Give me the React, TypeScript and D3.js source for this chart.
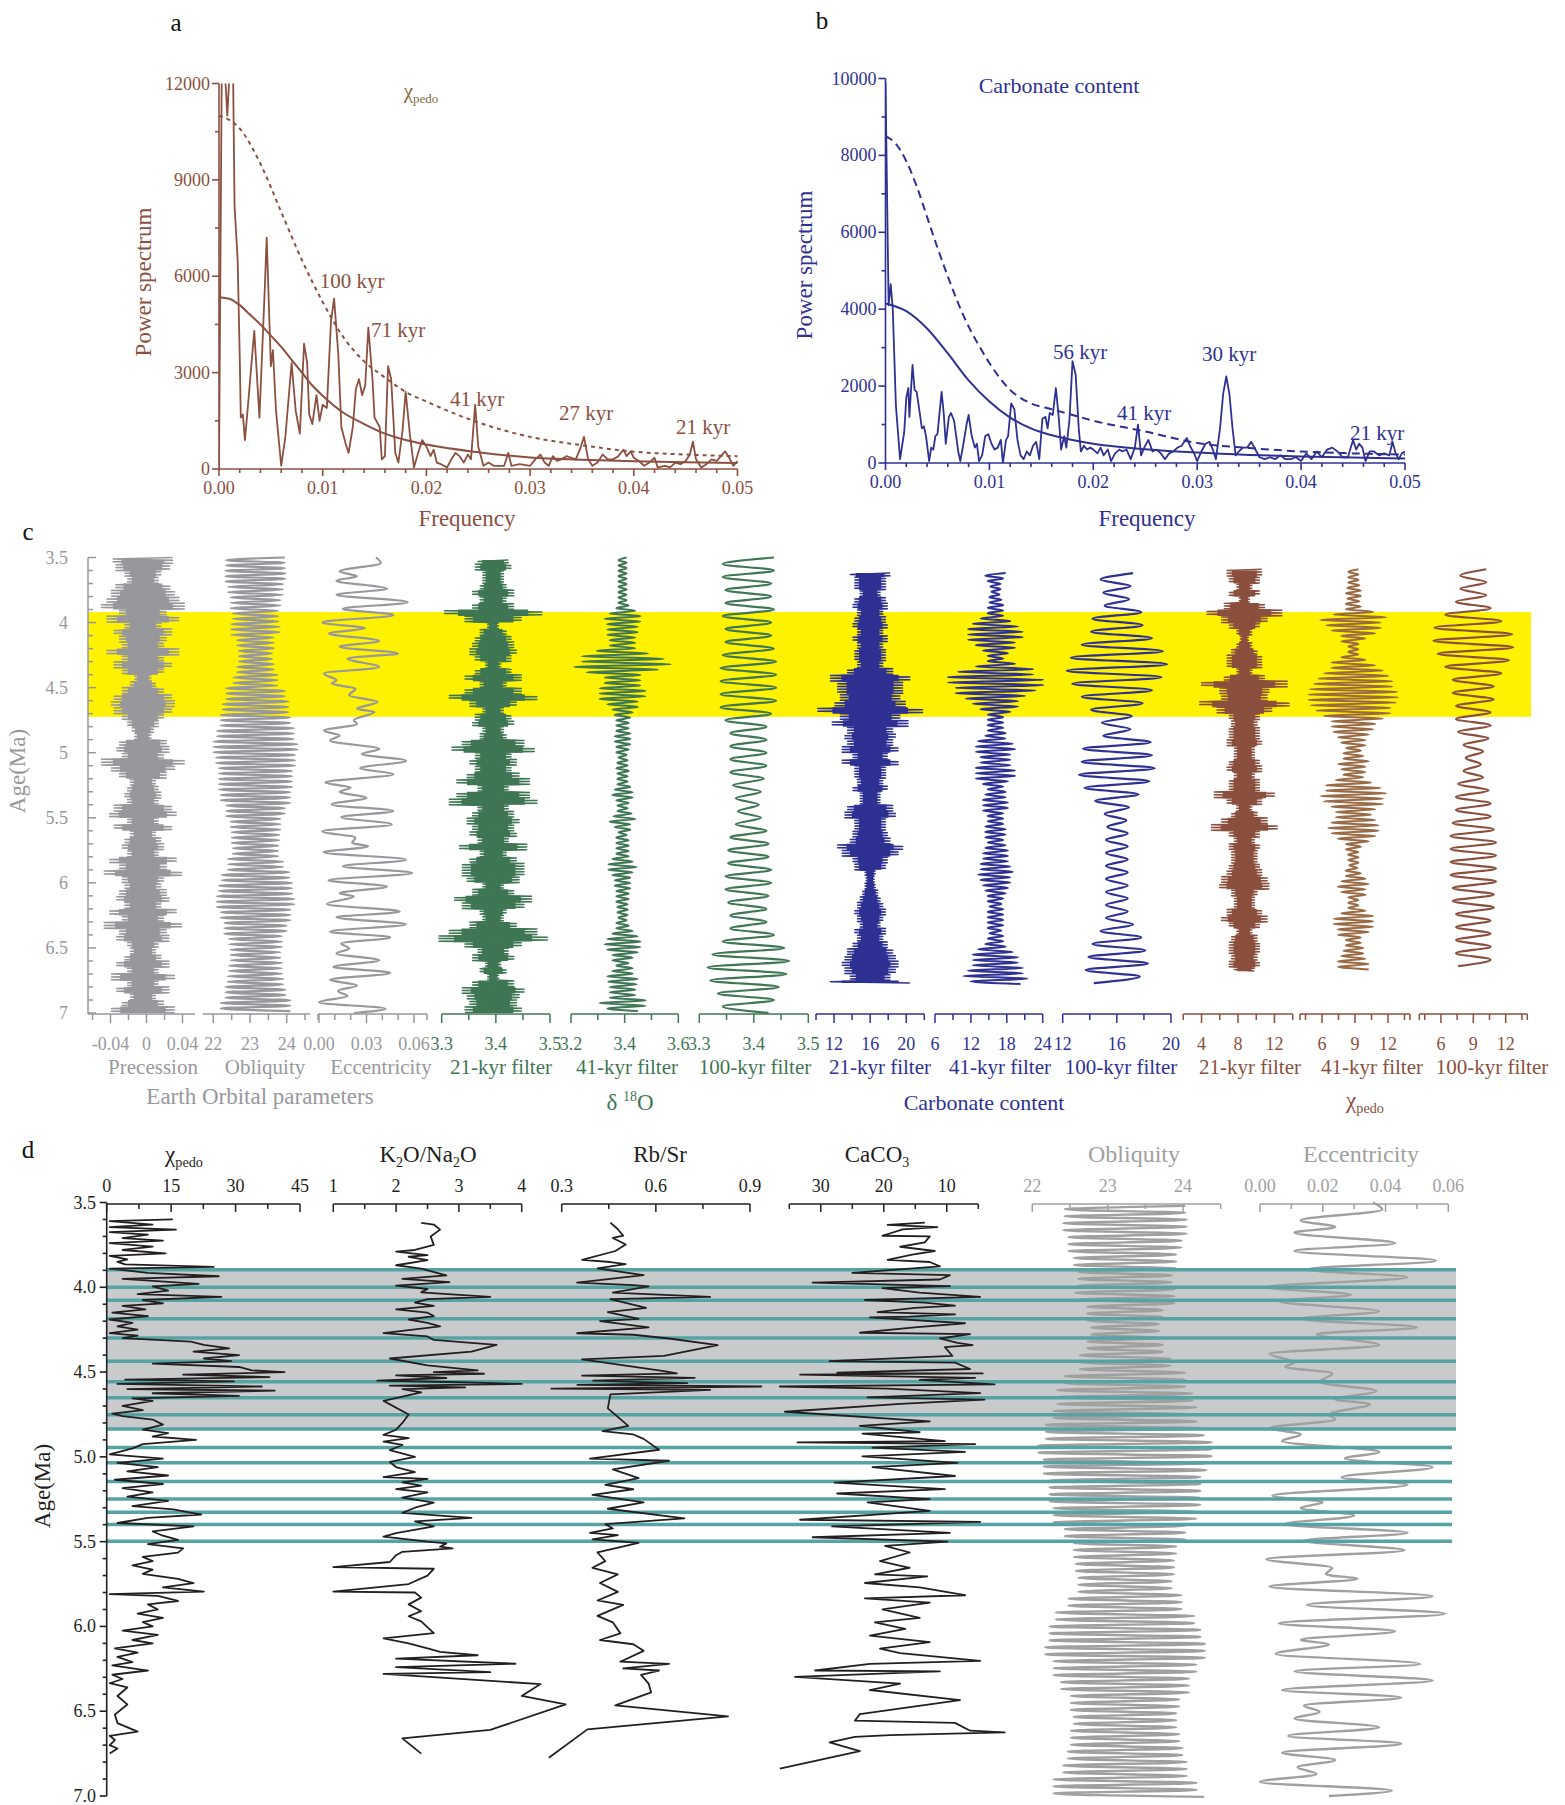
import React from "react";
import * as d3 from "d3";

type P = [number, number];

// ---------------- Panel a: chi_pedo power spectrum ----------------
const chiSpectrum: P[] = [[0,0],[0.0003,14000],[0.0008,11000],[0.0013,14000],[0.0015,8200],[0.0018,6500],[0.0020,3500],[0.0021,1600],[0.0023,1700],[0.0025,900],[0.0028,2000],[0.0034,4300],[0.0039,1600],[0.0044,5500],[0.0046,7200],[0.0050,3200],[0.0052,3700],[0.0055,1800],[0.0060,100],[0.0064,1000],[0.0070,3300],[0.0074,1800],[0.0078,1100],[0.0082,3900],[0.0085,3300],[0.0087,1700],[0.0090,1400],[0.0094,2300],[0.0097,1500],[0.0100,2000],[0.0104,1900],[0.0108,4600],[0.0111,5300],[0.0115,3600],[0.0118,1300],[0.0122,800],[0.0125,500],[0.0129,1300],[0.0132,2500],[0.0135,2800],[0.0138,2300],[0.0141,2600],[0.0144,4400],[0.0148,2800],[0.0150,1600],[0.0155,1300],[0.0157,300],[0.0160,400],[0.0163,3200],[0.0166,2800],[0.0170,500],[0.0173,200],[0.0177,1200],[0.0180,2400],[0.0184,1100],[0.0188,50],[0.0192,500],[0.0196,900],[0.0200,700],[0.0204,400],[0.0207,600],[0.0210,200],[0.0214,150],[0.0220,50],[0.0224,300],[0.0228,500],[0.0232,400],[0.0236,200],[0.0240,450],[0.0243,300],[0.0247,2000],[0.0250,700],[0.0255,100],[0.0260,200],[0.0265,100],[0.0270,100],[0.0275,100],[0.0279,500],[0.0282,100],[0.0290,150],[0.0300,100],[0.0305,300],[0.0310,450],[0.0314,200],[0.0318,100],[0.0322,400],[0.0326,250],[0.0330,300],[0.0335,400],[0.0340,350],[0.0344,300],[0.0348,600],[0.0352,1000],[0.0356,300],[0.0360,100],[0.0365,200],[0.0370,450],[0.0375,300],[0.0380,300],[0.0385,400],[0.0390,600],[0.0393,400],[0.0397,550],[0.0400,350],[0.0405,250],[0.0410,100],[0.0415,200],[0.0420,350],[0.0423,50],[0.0430,100],[0.0435,50],[0.0440,200],[0.0445,150],[0.0450,250],[0.0454,450],[0.0457,850],[0.0460,300],[0.0465,50],[0.0470,150],[0.0475,300],[0.0480,250],[0.0484,400],[0.0488,550],[0.0492,350],[0.0496,100],[0.0500,250]];
const chiRedNoise: P[] = [[0,5350],[0.001,5300],[0.002,5100],[0.003,4800],[0.004,4500],[0.005,4150],[0.006,3800],[0.007,3400],[0.008,3000],[0.009,2600],[0.010,2280],[0.012,1750],[0.014,1400],[0.016,1100],[0.018,900],[0.020,760],[0.025,520],[0.030,360],[0.035,290],[0.040,240],[0.045,210],[0.050,190]];
const chiConfidence: P[] = [[0,11000],[0.002,10600],[0.004,9500],[0.006,8000],[0.008,6500],[0.010,5200],[0.012,4100],[0.014,3350],[0.016,2850],[0.018,2400],[0.020,2100],[0.025,1450],[0.030,1000],[0.035,740],[0.040,540],[0.045,450],[0.050,400]];

// ---------------- Panel b: carbonate power spectrum ----------------
const carbSpectrum: P[] = [[0,9900],[0.0003,4100],[0.0005,4650],[0.0007,4000],[0.0010,1500],[0.0014,100],[0.0018,800],[0.0020,1700],[0.0022,1950],[0.0023,1200],[0.0026,2550],[0.0028,1900],[0.0030,1850],[0.0033,1300],[0.0035,900],[0.0037,950],[0.0039,700],[0.0042,50],[0.0044,400],[0.0046,350],[0.0048,700],[0.0050,750],[0.0054,1850],[0.0056,1300],[0.0058,500],[0.0061,1200],[0.0063,1300],[0.0066,1100],[0.0070,300],[0.0072,50],[0.0075,500],[0.0078,1000],[0.0080,1250],[0.0083,700],[0.0086,400],[0.0088,500],[0.0090,50],[0.0093,200],[0.0096,700],[0.0099,750],[0.0102,500],[0.0105,350],[0.0108,400],[0.0111,600],[0.0113,0],[0.0116,600],[0.0118,700],[0.0121,1550],[0.0124,1400],[0.0127,600],[0.0130,200],[0.0133,100],[0.0136,300],[0.0139,200],[0.0142,450],[0.0145,550],[0.0148,100],[0.0151,1150],[0.0154,1200],[0.0156,900],[0.0158,1300],[0.0161,1250],[0.0164,1950],[0.0167,1100],[0.0169,350],[0.0172,700],[0.0174,400],[0.0177,1100],[0.0180,2650],[0.0183,2300],[0.0186,900],[0.0188,300],[0.0191,450],[0.0194,350],[0.0197,400],[0.0200,350],[0.0204,250],[0.0207,400],[0.0210,200],[0.0214,350],[0.0217,50],[0.0221,250],[0.0225,350],[0.0228,300],[0.0232,350],[0.0236,100],[0.0240,400],[0.0243,1000],[0.0246,200],[0.0249,400],[0.0253,600],[0.0257,300],[0.0261,350],[0.0265,250],[0.0269,100],[0.0273,250],[0.0277,300],[0.0281,400],[0.0285,450],[0.0290,650],[0.0293,450],[0.0297,250],[0.0300,50],[0.0304,300],[0.0308,500],[0.0312,550],[0.0315,350],[0.0318,100],[0.0322,900],[0.0325,1800],[0.0328,2250],[0.0331,1800],[0.0334,900],[0.0337,200],[0.0340,300],[0.0344,400],[0.0348,400],[0.0352,550],[0.0356,350],[0.0360,150],[0.0365,100],[0.0370,150],[0.0375,100],[0.0380,200],[0.0385,100],[0.0390,100],[0.0395,150],[0.0400,50],[0.0405,250],[0.0410,100],[0.0415,300],[0.0420,150],[0.0425,350],[0.0430,400],[0.0435,300],[0.0440,150],[0.0445,150],[0.0450,600],[0.0453,350],[0.0456,500],[0.0459,400],[0.0462,50],[0.0466,300],[0.0470,300],[0.0475,200],[0.0480,250],[0.0485,200],[0.0488,550],[0.0491,250],[0.0494,100],[0.0497,250],[0.0500,300]];
const carbRedNoise: P[] = [[0,4150],[0.002,3950],[0.004,3500],[0.006,2850],[0.008,2150],[0.010,1600],[0.012,1180],[0.014,900],[0.016,720],[0.018,600],[0.020,500],[0.025,360],[0.030,270],[0.035,210],[0.040,170],[0.045,140],[0.050,120]];
const carbConfidence: P[] = [[0,8500],[0.001,8300],[0.002,7850],[0.003,7200],[0.004,6400],[0.005,5600],[0.006,4850],[0.007,4150],[0.008,3550],[0.009,3050],[0.010,2600],[0.012,1900],[0.014,1550],[0.016,1400],[0.018,1250],[0.020,1100],[0.025,820],[0.030,520],[0.035,390],[0.040,300],[0.045,250],[0.050,220]];

// ---------------- Panel c: envelopes (half-amplitudes, data units) ----------------
// grid 3.50..7.00 step 0.05
const precessionEnv = [0.033,0.030,0.020,0.017,0.030,0.035,0.040,0.046,0.026,0.040,0.020,0.032,0.026,0.023,0.040,0.023,0.032,0.023,0.009,0.014,0.023,0.032,0.035,0.032,0.023,0.017,0.012,0.009,0.026,0.029,0.023,0.046,0.035,0.026,0.014,0.017,0.020,0.017,0.032,0.037,0.017,0.032,0.014,0.020,0.023,0.017,0.037,0.026,0.043,0.023,0.020,0.026,0.029,0.020,0.037,0.023,0.043,0.026,0.029,0.017,0.014,0.020,0.029,0.017,0.035,0.017,0.029,0.014,0.023,0.035,0.020];
// grid 3.5..7.0 step 0.1
const obliquityEnv = [0.80,0.82,0.75,0.68,0.62,0.66,0.50,0.45,0.50,0.60,0.80,0.90,0.95,1.05,1.15,1.08,1.00,1.00,0.95,0.80,0.68,0.65,0.62,0.75,0.92,1.00,1.06,0.95,0.85,0.72,0.68,0.72,0.76,0.82,0.95,1.05];
// eccentricity turning points [age Ma, value]
const eccentricity: P[] = [[3.50,0.036],[3.542,0.039],[3.606,0.013],[3.645,0.024],[3.678,0.011],[3.740,0.043],[3.786,0.011],[3.843,0.056],[3.895,0.015],[3.941,0.047],[4.000,0.002],[4.044,0.029],[4.083,0.006],[4.142,0.038],[4.186,0.013],[4.237,0.050],[4.276,0.018],[4.341,0.038],[4.392,0.003],[4.443,0.011],[4.469,0.008],[4.508,0.023],[4.559,0.019],[4.611,0.037],[4.662,0.024],[4.688,0.035],[4.75,0.022],[4.78,0.024],[4.830,0.003],[4.868,0.013],[4.907,0.007],[4.971,0.038],[5.010,0.027],[5.061,0.055],[5.120,0.026],[5.165,0.047],[5.229,0.004],[5.268,0.020],[5.302,0.013],[5.346,0.030],[5.397,0.008],[5.448,0.047],[5.495,0.014],[5.551,0.046],[5.603,0.002],[5.654,0.023],[5.693,0.021],[5.719,0.031],[5.765,0.003],[5.822,0.055],[5.873,0.015],[5.925,0.059],[5.981,0.006],[6.028,0.043],[6.080,0.013],[6.105,0.022],[6.162,0.005],[6.221,0.051],[6.265,0.011],[6.319,0.055],[6.375,0.007],[6.419,0.045],[6.466,0.014],[6.504,0.019],[6.543,0.011],[6.595,0.038],[6.646,0.009],[6.692,0.045],[6.744,0.007],[6.788,0.024],[6.83,0.012],[6.87,0.018],[6.917,0.000],[6.968,0.042],[7.00,0.022]];
// delta18O filters, grid 3.50..7.00 step 0.05 (100-kyr: step 0.1)
const d18O21Env = [0.028,0.033,0.019,0.019,0.024,0.038,0.024,0.038,0.090,0.052,0.010,0.024,0.033,0.038,0.043,0.033,0.014,0.033,0.052,0.024,0.052,0.081,0.043,0.019,0.033,0.038,0.019,0.024,0.057,0.076,0.033,0.043,0.033,0.048,0.067,0.028,0.067,0.081,0.028,0.038,0.048,0.038,0.043,0.028,0.062,0.024,0.043,0.057,0.057,0.048,0.019,0.038,0.071,0.057,0.024,0.019,0.043,0.081,0.100,0.052,0.028,0.038,0.014,0.024,0.010,0.038,0.057,0.048,0.043,0.052,0.038];
const d18O41Env = [0.015,0.015,0.015,0.015,0.015,0.015,0.015,0.023,0.048,0.067,0.057,0.057,0.048,0.048,0.096,0.153,0.181,0.134,0.067,0.067,0.086,0.086,0.057,0.038,0.029,0.023,0.023,0.029,0.029,0.023,0.015,0.019,0.023,0.019,0.019,0.029,0.038,0.023,0.019,0.034,0.048,0.029,0.015,0.023,0.023,0.023,0.038,0.053,0.038,0.029,0.029,0.023,0.023,0.019,0.019,0.015,0.023,0.038,0.057,0.067,0.057,0.038,0.023,0.038,0.057,0.053,0.048,0.048,0.086,0.057,0.019];
const d18O100Env = [0.047,0.047,0.042,0.042,0.047,0.042,0.042,0.047,0.051,0.051,0.051,0.051,0.042,0.033,0.033,0.033,0.033,0.028,0.023,0.019,0.023,0.033,0.037,0.037,0.042,0.042,0.037,0.033,0.033,0.047,0.066,0.075,0.070,0.056,0.047,0.037];
// carbonate filters, grid 3.60..6.75 step 0.05 (100-kyr: step 0.1)
const carb21Env = [2.2,1.7,1.7,1.1,1.7,1.9,1.4,1.7,1.9,1.4,1.9,1.4,1.7,1.7,1.4,2.5,4.4,3.6,3.6,3.3,3.9,5.8,3.3,4.2,2.5,2.8,2.5,3.1,1.9,3.1,1.7,1.7,1.4,1.9,1.1,1.1,2.5,2.8,1.7,1.7,1.9,2.2,3.6,3.1,1.9,1.7,0.56,0.44,0.56,0.83,1.1,1.4,1.7,1.4,1.1,1.7,1.4,1.9,2.5,2.8,3.1,2.8,2.2,4.4];
const carb41Env = [1.7,1.3,0.84,0.67,1.0,1.3,1.3,2.5,3.8,4.6,4.6,3.3,2.1,1.3,3.3,6.3,8.0,8.0,6.7,5.0,3.8,2.5,1.3,1.3,1.3,1.7,2.9,3.3,2.5,2.5,3.3,3.3,2.1,1.3,1.7,2.1,2.1,1.3,1.3,1.7,1.7,1.3,1.7,2.1,2.1,2.5,2.9,2.5,2.1,1.7,1.3,1.0,1.3,1.3,1.3,1.0,1.3,1.7,2.9,3.8,3.8,4.6,5.4,4.2];
const carb100Env = [1.2,1.0,0.9,1.8,1.9,2.6,3.4,3.7,3.3,2.6,1.9,1.1,1.0,2.5,2.6,2.8,2.4,1.6,0.9,0.7,0.8,0.8,0.8,0.8,0.8,0.8,0.8,1.2,1.8,2.1,2.3,1.7,1.4];
// chi_pedo filters, grid 3.60..6.65 step 0.05 (100-kyr: step 0.1)
const chi21Env = [1.9,1.65,0.82,1.65,0.55,2.2,4.1,2.5,1.65,0.82,0.44,0.82,1.4,1.9,1.9,0.82,2.2,4.7,2.7,2.5,4.9,3.0,1.65,1.4,1.65,1.65,1.9,1.1,1.1,1.65,1.9,1.1,1.65,1.65,3.3,1.9,0.82,1.4,2.5,3.6,1.65,1.1,1.65,1.4,1.4,1.65,1.9,2.5,2.7,1.4,1.1,1.1,1.9,2.5,1.65,0.82,1.4,1.65,1.65,1.4,1.65,1.1];
const chi41Env = [0.46,0.46,0.55,0.68,0.55,0.68,1.8,3.0,2.5,2.0,1.1,0.46,0.46,1.1,2.0,2.7,3.2,3.6,4.0,4.1,3.9,3.4,2.7,2.0,1.8,1.4,1.1,0.68,0.91,1.4,1.1,0.91,1.6,2.5,3.0,2.7,2.0,1.6,2.0,2.3,2.0,1.4,0.68,0.46,0.46,0.36,0.68,1.1,1.4,1.1,0.46,0.46,1.1,1.8,1.8,1.4,0.68,0.68,0.91,1.1,1.4,1.4];
const chi100Env = [1.2,1.2,1.6,2.6,3.6,3.7,3.3,2.6,1.9,1.9,1.6,1.6,1.4,0.9,0.7,0.9,1.4,1.6,1.6,1.9,2.1,2.1,2.1,2.1,1.9,1.9,1.6,1.6,1.6,1.6,1.4,1.2];

// ---------------- Panel d: proxy records [age Ma, value] ----------------
const chiPedo: P[] = [[3.60,15.4],[3.61,0.7],[3.63,10.7],[3.645,0.7],[3.66,16.1],[3.675,0.7],[3.69,9.6],[3.71,3.7],[3.725,13.1],[3.74,0.7],[3.76,10.7],[3.78,3.7],[3.80,13.7],[3.815,0.7],[3.835,4.8],[3.85,2.5],[3.865,4.3],[3.88,24.9],[3.89,0.7],[3.915,9.6],[3.935,26.1],[3.95,3.7],[3.98,21.4],[3.995,10.7],[4.02,14.3],[4.04,7.2],[4.057,26.7],[4.075,8.4],[4.095,13.1],[4.11,3.7],[4.13,9.0],[4.15,1.3],[4.17,9.6],[4.19,0.7],[4.21,6.0],[4.23,2.5],[4.25,7.2],[4.27,0.7],[4.285,7.2],[4.30,3.7],[4.32,19.6],[4.34,22.6],[4.36,28.5],[4.38,20.2],[4.40,30.8],[4.42,22.6],[4.435,29.0],[4.45,10.7],[4.47,30.8],[4.49,33.8],[4.50,41.4],[4.515,17.8],[4.53,37.9],[4.545,4.3],[4.555,29.6],[4.57,2.5],[4.585,36.1],[4.60,4.8],[4.61,39.1],[4.625,10.7],[4.64,30.8],[4.655,6.0],[4.67,10.7],[4.70,3.7],[4.725,8.4],[4.745,1.3],[4.76,3.7],[4.78,10.7],[4.81,13.1],[4.84,8.4],[4.86,14.3],[4.88,10.7],[4.90,20.8],[4.925,8.4],[4.95,6.0],[4.985,0.7],[5.01,13.1],[5.035,2.5],[5.06,11.9],[5.085,4.8],[5.11,14.3],[5.135,1.9],[5.16,13.1],[5.185,3.7],[5.21,10.7],[5.235,4.8],[5.26,14.3],[5.29,6.0],[5.31,15.5],[5.34,22.0],[5.36,9.6],[5.39,2.5],[5.41,20.2],[5.44,10.7],[5.465,13.1],[5.49,16.6],[5.515,9.6],[5.54,17.8],[5.565,16.6],[5.59,8.4],[5.615,10.7],[5.64,6.0],[5.665,10.7],[5.69,8.4],[5.72,16.6],[5.745,20.2],[5.77,13.1],[5.795,22.6],[5.81,0.7],[5.82,11.9],[5.85,16.6],[5.87,9.6],[5.90,11.9],[5.925,7.2],[5.95,13.1],[5.975,8.4],[6.00,10.7],[6.025,3.7],[6.05,11.9],[6.08,6.0],[6.10,10.7],[6.13,1.9],[6.155,7.2],[6.18,2.5],[6.21,6.0],[6.23,1.3],[6.26,9.6],[6.285,1.3],[6.31,3.7],[6.335,0.7],[6.36,4.8],[6.41,2.5],[6.46,4.8],[6.52,1.9],[6.57,2.5],[6.62,7.2],[6.645,0.7],[6.67,1.9],[6.70,0.7],[6.72,2.5],[6.75,0.7]];
const k2oNa2o: P[] = [[3.62,2.4],[3.63,2.6],[3.66,2.7],[3.70,2.55],[3.75,2.6],[3.78,2.3],[3.79,2.0],[3.81,2.5],[3.82,2.2],[3.84,2.5],[3.87,2.0],[3.89,2.4],[3.93,2.8],[3.95,2.1],[3.97,2.85],[3.99,2.0],[4.01,2.5],[4.03,2.4],[4.057,3.5],[4.07,2.5],[4.09,2.3],[4.11,2.6],[4.13,2.0],[4.15,2.5],[4.17,2.6],[4.19,2.2],[4.21,2.5],[4.23,2.7],[4.27,1.8],[4.29,2.5],[4.31,2.6],[4.34,3.6],[4.38,3.2],[4.42,1.9],[4.46,2.5],[4.49,3.3],[4.50,2.6],[4.51,3.4],[4.52,2.0],[4.535,2.8],[4.55,1.7],[4.56,3.0],[4.57,4.0],[4.58,1.9],[4.59,3.1],[4.60,2.1],[4.62,2.4],[4.67,1.8],[4.75,2.2],[4.80,2.1],[4.84,2.0],[4.87,1.8],[4.89,2.2],[4.91,1.8],[4.93,2.1],[4.96,1.9],[5.00,2.3],[5.03,1.9],[5.06,2.0],[5.09,2.3],[5.12,1.8],[5.13,2.5],[5.15,2.1],[5.17,2.4],[5.19,2.0],[5.21,2.5],[5.24,2.1],[5.27,2.6],[5.30,2.3],[5.33,2.1],[5.36,3.2],[5.38,2.3],[5.41,2.6],[5.45,2.0],[5.47,1.8],[5.50,2.5],[5.51,2.8],[5.53,2.7],[5.54,2.9],[5.56,2.1],[5.58,2.0],[5.62,1.9],[5.65,1.0],[5.66,2.6],[5.70,2.5],[5.75,2.2],[5.795,1.0],[5.80,2.3],[5.83,2.4],[5.87,2.2],[5.91,2.4],[5.94,2.2],[5.97,2.4],[6.04,2.6],[6.07,1.8],[6.10,2.2],[6.13,2.5],[6.15,2.7],[6.17,3.3],[6.19,2.0],[6.22,3.9],[6.24,2.0],[6.27,3.5],[6.28,1.8],[6.34,4.3],[6.41,4.0],[6.46,4.7],[6.61,3.5],[6.66,2.1],[6.75,2.4]];
const rbSr: P[] = [[3.619,0.455],[3.658,0.479],[3.696,0.496],[3.709,0.463],[3.748,0.504],[3.786,0.471],[3.838,0.365],[3.851,0.455],[3.864,0.504],[3.889,0.414],[3.928,0.561],[3.972,0.349],[3.987,0.528],[3.995,0.577],[4.031,0.463],[4.057,0.773],[4.070,0.455],[4.121,0.569],[4.147,0.447],[4.186,0.545],[4.199,0.422],[4.237,0.577],[4.271,0.349],[4.28,0.528],[4.302,0.642],[4.341,0.797],[4.405,0.626],[4.425,0.365],[4.495,0.626],[4.508,0.667],[4.521,0.365],[4.534,0.724],[4.55,0.40],[4.559,0.561],[4.565,0.70],[4.575,0.35],[4.585,0.936],[4.598,0.267],[4.605,0.773],[4.632,0.455],[4.714,0.447],[4.817,0.512],[4.848,0.430],[4.868,0.528],[4.894,0.561],[4.958,0.610],[5.010,0.390],[5.023,0.642],[5.074,0.463],[5.126,0.545],[5.165,0.439],[5.191,0.528],[5.224,0.398],[5.268,0.561],[5.306,0.447],[5.363,0.691],[5.397,0.439],[5.422,0.463],[5.448,0.390],[5.461,0.479],[5.487,0.398],[5.507,0.545],[5.564,0.414],[5.615,0.439],[5.654,0.398],[5.693,0.479],[5.744,0.422],[5.796,0.479],[5.847,0.414],[5.873,0.496],[5.938,0.414],[5.976,0.463],[6.041,0.487],[6.080,0.422],[6.105,0.528],[6.144,0.561],[6.208,0.487],[6.221,0.642],[6.247,0.496],[6.260,0.610],[6.286,0.553],[6.337,0.577],[6.389,0.585],[6.466,0.471],[6.530,0.830],[6.607,0.382],[6.774,0.259]];
const caco3: P[] = [[3.619,13.5],[3.632,19.4],[3.645,11.5],[3.658,17.0],[3.696,20.2],[3.70,12.7],[3.735,13.5],[3.761,17.4],[3.786,11.9],[3.807,15.5],[3.838,19.4],[3.851,12.7],[3.877,11.1],[3.915,25.0],[3.928,9.5],[3.954,11.1],[3.972,31.3],[3.993,9.5],[4.005,20.2],[4.031,14.3],[4.057,4.7],[4.075,23.0],[4.090,13.5],[4.108,8.7],[4.121,15.1],[4.147,21.0],[4.160,8.7],[4.173,15.9],[4.178,22.2],[4.212,7.1],[4.237,15.1],[4.268,23.8],[4.276,6.3],[4.302,11.1],[4.328,8.3],[4.341,5.9],[4.353,10.3],[4.405,9.1],[4.436,28.6],[4.444,8.7],[4.482,6.3],[4.503,27.4],[4.508,4.3],[4.515,33.3],[4.534,5.5],[4.546,14.3],[4.572,2.4],[4.585,36.5],[4.598,19.4],[4.624,4.7],[4.649,22.6],[4.662,4.0],[4.688,17.4],[4.734,35.7],[4.791,12.7],[4.817,23.8],[4.855,14.3],[4.863,23.4],[4.907,10.3],[4.915,33.7],[4.925,5.5],[4.946,21.8],[4.971,7.1],[4.997,23.4],[5.036,8.3],[5.061,21.8],[5.113,8.7],[5.152,27.8],[5.190,10.3],[5.216,27.4],[5.249,12.7],[5.268,22.6],[5.319,12.7],[5.371,33.3],[5.384,4.7],[5.410,28.2],[5.448,9.5],[5.474,31.3],[5.500,9.9],[5.525,19.8],[5.564,15.9],[5.615,20.6],[5.654,15.9],[5.693,21.4],[5.705,13.1],[5.744,23.0],[5.770,14.3],[5.816,7.1],[5.834,23.0],[5.860,12.7],[5.899,20.2],[5.950,14.3],[5.976,21.4],[6.015,16.6],[6.054,22.2],[6.092,12.7],[6.131,20.6],[6.157,17.4],[6.203,4.7],[6.221,22.2],[6.260,30.9],[6.265,11.1],[6.298,34.1],[6.337,17.4],[6.375,22.2],[6.435,7.9],[6.517,23.8],[6.556,24.6],[6.569,8.7],[6.615,6.3],[6.625,0.8],[6.641,19.0],[6.651,24.6],[6.684,28.6],[6.735,23.8],[6.839,36.5]];
const tealAges = [3.897,4.0,4.077,4.186,4.299,4.436,4.557,4.652,4.752,4.835,4.945,5.035,5.146,5.249,5.327,5.399,5.497];

// ---------------- helpers ----------------
const FONT = "'Liberation Serif','Times New Roman',serif";
const BROWN_A = "#8b5040";
const NAVY = "#2e3192";
const GRAY_C = "#98989c";
const GREEN = "#3f7654";
const BROWN = "#8b4f3e";
const TAN = "#9a6a44";
const GRAY_D = "#a0a0a0";
const TEAL = "#56a3a3";
const BLACK = "#231f20";
const CORE = 0.72; // solid core drawn under dense oscillations (fraction of envelope)

function zig(start: number, end: number, period: number, g0: number, step: number, env: number[], center: number): P[] {
  const out: P[] = [];
  const n = Math.floor((end - start) / (period / 2) + 1e-6);
  for (let k = 0; k <= n; k++) {
    const t = start + (k * period) / 2;
    const i = Math.max(0, Math.min(env.length - 1, Math.floor((t - g0) / step + 1e-6)));
    out.push([t, center + (k % 2 === 0 ? env[i] : -env[i])]);
  }
  return out;
}

function blob(start: number, end: number, g0: number, step: number, env: number[]) {
  const rows: P[] = [];
  env.forEach((v, i) => {
    const a0 = Math.max(start, g0 + i * step);
    const a1 = Math.min(end, g0 + (i + 1) * step);
    if (a1 > a0) { rows.push([a0, v * CORE]); rows.push([a1, v * CORE]); }
  });
  return rows;
}

function vpath(data: P[], xs: (v: number) => number, ys: (v: number) => number, curve: any = d3.curveLinear) {
  return d3.line<P>().x((d) => xs(d[1])).y((d) => ys(d[0])).curve(curve)(data) || "";
}

function varea(rows: P[], center: number, xs: (v: number) => number, ys: (v: number) => number) {
  return d3.area<P>().y((d) => ys(d[0])).x0((d) => xs(center - d[1])).x1((d) => xs(center + d[1])).curve(d3.curveMonotoneY)(rows) || "";
}

type AxisSpec = {
  scale: d3.ScaleLinear<number, number>;
  from: number; to: number;
  ticks: number[];
  labels: [number, string][];
  color: string;
  ends?: boolean;
};

function BottomAxis({ a, y, labelY, fs }: { a: AxisSpec; y: number; labelY: number; fs: number }) {
  const lab = new Set(a.labels.map((l) => l[0]));
  return (
    <g stroke={a.color} fill="none" strokeWidth={1.5}>
      <line x1={a.from} x2={a.to} y1={y} y2={y} />
      {a.ticks.map((t, i) => (
        <line key={i} x1={a.scale(t)} x2={a.scale(t)} y1={y} y2={y + (lab.has(t) ? 9 : 6)} />
      ))}
      {a.ends && <line x1={a.from} x2={a.from} y1={y} y2={y + 6} />}
      {a.ends && <line x1={a.to} x2={a.to} y1={y} y2={y + 6} />}
      {a.labels.map(([v, s], i) => (
        <text key={"l" + i} x={a.scale(v)} y={labelY} fill={a.color} stroke="none" fontSize={fs} textAnchor="middle">{s}</text>
      ))}
    </g>
  );
}

function TopAxis({ a, y, labelY, fs }: { a: AxisSpec; y: number; labelY: number; fs: number }) {
  const lab = new Set(a.labels.map((l) => l[0]));
  return (
    <g stroke={a.color} fill="none" strokeWidth={1.5}>
      <line x1={a.from} x2={a.to} y1={y} y2={y} />
      {a.ticks.map((t, i) => (
        <line key={i} x1={a.scale(t)} x2={a.scale(t)} y1={y} y2={y + (lab.has(t) ? 8 : 5)} />
      ))}
      {a.labels.map(([v, s], i) => (
        <text key={"l" + i} x={a.scale(v)} y={labelY} fill={a.color} stroke="none" fontSize={fs} textAnchor="middle">{s}</text>
      ))}
    </g>
  );
}

function Spectrum({ xs, ys, spec, red, conf, color, yTicks, yMajorEvery, dash, clipId }: any) {
  const [x0, x1] = xs.range();
  const [y0, y1] = ys.range();
  const xt = d3.range(0, 26).map((i) => i * 0.002);
  const line = d3.line<P>().x((d) => xs(d[0])).y((d) => ys(d[1]));
  const smooth = d3.line<P>().x((d) => xs(d[0])).y((d) => ys(d[1])).curve(d3.curveMonotoneX);
  return (
    <g>
      <defs>
        <clipPath id={clipId}><rect x={x0} y={y1} width={x1 - x0 + 2} height={y0 - y1} /></clipPath>
      </defs>
      <g clipPath={`url(#${clipId})`} fill="none" stroke={color}>
        <path d={smooth(conf) || ""} strokeWidth={2} strokeDasharray={dash} />
        <path d={smooth(red) || ""} strokeWidth={2} />
        <path d={line(spec) || ""} strokeWidth={1.8} strokeLinejoin="round" />
      </g>
      <g stroke={color} strokeWidth={1.6}>
        <line x1={x0} x2={x0} y1={y0} y2={y1} />
        <line x1={x0} x2={x1} y1={y0} y2={y0} />
        {yTicks.map((v: number, i: number) => (
          <line key={"y" + i} x1={x0} x2={x0 - (i % yMajorEvery === 0 ? 7 : 4)} y1={ys(v)} y2={ys(v)} />
        ))}
        {xt.map((v, i) => (
          <line key={"x" + i} x1={xs(v)} x2={xs(v)} y1={y0} y2={y0 + (i % 5 === 0 ? 7 : 4)} />
        ))}
      </g>
      <g fill={color} fontSize={18}>
        {yTicks.filter((_: number, i: number) => i % yMajorEvery === 0).map((v: number) => (
          <text key={v} x={x0 - 9} y={ys(v) + 6} textAnchor="end">{v}</text>
        ))}
        {[0, 0.01, 0.02, 0.03, 0.04, 0.05].map((v) => (
          <text key={v} x={xs(v)} y={y0 + 25} textAnchor="middle">{v.toFixed(2)}</text>
        ))}
      </g>
    </g>
  );
}

function Chi({ x, y, fs, color, anchor = "middle" }: any) {
  return (
    <text x={x} y={y} fill={color} fontSize={fs} textAnchor={anchor}>
      χ<tspan fontSize={fs * 0.62} dy={fs * 0.22}>pedo</tspan>
    </text>
  );
}

export default function App() {
  const xA = d3.scaleLinear([0, 0.05], [219, 737.5]);
  const yA = d3.scaleLinear([0, 12000], [469, 83.5]);
  const xB = d3.scaleLinear([0, 0.05], [885.5, 1405]);
  const yB = d3.scaleLinear([0, 10000], [463, 78.5]);

  const ageC = d3.scaleLinear([3.5, 7], [557.5, 1013]);
  const cAxes: AxisSpec[] = [
    { scale: d3.scaleLinear([-0.04, 0.04], [110.5, 182.5]), from: 88, to: 195, ticks: [-0.06, -0.04, -0.02, 0, 0.02, 0.04], labels: [[-0.04, "-0.04"], [0, "0"], [0.04, "0.04"]], color: GRAY_C },
    { scale: d3.scaleLinear([22, 24], [213.3, 286.7]), from: 202.7, to: 310, ticks: [22, 22.5, 23, 23.5, 24, 24.5], labels: [[22, "22"], [23, "23"], [24, "24"]], color: GRAY_C },
    { scale: d3.scaleLinear([0, 0.06], [319, 414]), from: 318, to: 427, ticks: [0, 0.01, 0.02, 0.03, 0.04, 0.05, 0.06], labels: [[0, "0.00"], [0.03, "0.03"], [0.06, "0.06"]], color: GRAY_C, ends: true },
    { scale: d3.scaleLinear([3.3, 3.5], [441.7, 550]), from: 441.7, to: 550, ticks: [3.3, 3.35, 3.4, 3.45, 3.5], labels: [[3.3, "3.3"], [3.4, "3.4"], [3.5, "3.5"]], color: GREEN },
    { scale: d3.scaleLinear([3.2, 3.6], [571, 678.3]), from: 571, to: 678.3, ticks: [3.2, 3.3, 3.4, 3.5, 3.6], labels: [[3.2, "3.2"], [3.4, "3.4"], [3.6, "3.6"]], color: GREEN },
    { scale: d3.scaleLinear([3.3, 3.5], [699.3, 808.3]), from: 699.3, to: 808.3, ticks: [3.3, 3.35, 3.4, 3.45, 3.5], labels: [[3.3, "3.3"], [3.4, "3.4"], [3.5, "3.5"]], color: GREEN },
    { scale: d3.scaleLinear([10, 22], [816, 924.3]), from: 816, to: 924.3, ticks: [10, 12, 14, 16, 18, 20, 22], labels: [[12, "12"], [16, "16"], [20, "20"]], color: NAVY },
    { scale: d3.scaleLinear([6, 24], [935, 1042.7]), from: 935, to: 1042.7, ticks: [6, 9, 12, 15, 18, 21, 24], labels: [[6, "6"], [12, "12"], [18, "18"], [24, "24"]], color: NAVY },
    { scale: d3.scaleLinear([12, 20], [1062.7, 1171]), from: 1062.7, to: 1171, ticks: [12, 14, 16, 18, 20], labels: [[12, "12"], [16, "16"], [20, "20"]], color: NAVY },
    { scale: d3.scaleLinear([2, 14], [1183.3, 1292.7]), from: 1183.3, to: 1292.7, ticks: [2, 4, 6, 8, 10, 12, 14], labels: [[4, "4"], [8, "8"], [12, "12"]], color: BROWN },
    { scale: d3.scaleLinear([4, 14], [1300, 1410]), from: 1300, to: 1410, ticks: [4.5, 6, 7.5, 9, 10.5, 12, 13.5], labels: [[6, "6"], [9, "9"], [12, "12"]], color: BROWN, ends: true },
    { scale: d3.scaleLinear([4, 14], [1419.3, 1527.3]), from: 1419.3, to: 1527.3, ticks: [4.5, 6, 7.5, 9, 10.5, 12, 13.5], labels: [[6, "6"], [9, "9"], [12, "12"]], color: BROWN, ends: true },
  ];
  const ys = (v: number) => ageC(v);
  const cBlobs = [
    { d: varea(blob(3.52, 7.0, 3.5, 0.05, precessionEnv), -0.004, cAxes[0].scale, ys), c: GRAY_C },
    { d: varea(blob(3.52, 7.0, 3.5, 0.05, d18O21Env), 3.395, cAxes[3].scale, ys), c: GREEN },
    { d: varea(blob(3.62, 6.77, 3.6, 0.05, carb21Env), 16.0, cAxes[6].scale, ys), c: NAVY },
    { d: varea(blob(3.59, 6.68, 3.6, 0.05, chi21Env), 8.7, cAxes[9].scale, ys), c: BROWN },
  ];
  const cCurves = [
    { d: vpath(zig(3.5, 7.0, 0.022, 3.5, 0.05, precessionEnv, -0.004), cAxes[0].scale, ys), c: GRAY_C, w: 1.5 },
    { d: vpath(zig(3.5, 7.0, 0.041, 3.5, 0.1, obliquityEnv, 23.15), cAxes[1].scale, ys, d3.curveMonotoneY), c: GRAY_C, w: 2.2 },
    { d: vpath(eccentricity, cAxes[2].scale, ys, d3.curveMonotoneY), c: GRAY_C, w: 2.2 },
    { d: vpath(zig(3.52, 7.0, 0.021, 3.5, 0.05, d18O21Env, 3.395), cAxes[3].scale, ys), c: GREEN, w: 1.5 },
    { d: vpath(zig(3.5, 7.0, 0.041, 3.5, 0.05, d18O41Env, 3.392), cAxes[4].scale, ys, d3.curveMonotoneY), c: GREEN, w: 2 },
    { d: vpath(zig(3.5, 7.0, 0.1, 3.5, 0.1, d18O100Env, 3.39), cAxes[5].scale, ys, d3.curveMonotoneY), c: GREEN, w: 2.2 },
    { d: vpath(zig(3.62, 6.77, 0.021, 3.6, 0.05, carb21Env, 16.0), cAxes[6].scale, ys), c: NAVY, w: 1.5 },
    { d: vpath(zig(3.62, 6.78, 0.041, 3.6, 0.05, carb41Env, 16.1), cAxes[7].scale, ys, d3.curveMonotoneY), c: NAVY, w: 2 },
    { d: vpath(zig(3.62, 6.78, 0.1, 3.6, 0.1, carb100Env, 16.0), cAxes[8].scale, ys, d3.curveMonotoneY), c: NAVY, w: 2.2 },
    { d: vpath(zig(3.59, 6.68, 0.021, 3.6, 0.05, chi21Env, 8.7), cAxes[9].scale, ys), c: BROWN, w: 1.5 },
    { d: vpath(zig(3.59, 6.68, 0.041, 3.6, 0.05, chi41Env, 8.85), cAxes[10].scale, ys, d3.curveMonotoneY), c: TAN, w: 2 },
    { d: vpath(zig(3.59, 6.68, 0.1, 3.6, 0.1, chi100Env, 9.0), cAxes[11].scale, ys, d3.curveMonotoneY), c: BROWN, w: 2.2 },
  ];
  const cTitles: [number, string, string][] = [
    [153, "Precession", GRAY_C], [265, "Obliquity", GRAY_C], [381, "Eccentricity", GRAY_C],
    [501, "21-kyr filter", GREEN], [627, "41-kyr filter", GREEN], [755, "100-kyr filter", GREEN],
    [880, "21-kyr filter", NAVY], [1000, "41-kyr filter", NAVY], [1121, "100-kyr filter", NAVY],
    [1250, "21-kyr filter", BROWN], [1372, "41-kyr filter", BROWN], [1492, "100-kyr filter", BROWN],
  ];
  const ageTicksC = d3.range(0, 36).map((i) => 3.5 + i * 0.1);

  const ageD = d3.scaleLinear([3.5, 7], [1202.5, 1796]);
  const dAxes: AxisSpec[] = [
    { scale: d3.scaleLinear([0, 45], [106.7, 300]), from: 106.7, to: 300, ticks: d3.range(0, 7).map((i) => i * 7.5), labels: [[0, "0"], [15, "15"], [30, "30"], [45, "45"]], color: BLACK },
    { scale: d3.scaleLinear([1, 4], [333.3, 521.7]), from: 333.3, to: 521.7, ticks: d3.range(0, 7).map((i) => 1 + i * 0.5), labels: [[1, "1"], [2, "2"], [3, "3"], [4, "4"]], color: BLACK },
    { scale: d3.scaleLinear([0.3, 0.9], [561.7, 750]), from: 561.7, to: 750, ticks: d3.range(0, 5).map((i) => 0.3 + i * 0.15), labels: [], color: BLACK },
    { scale: d3.scaleLinear([35, 5], [789.3, 978.3]), from: 789.3, to: 978.3, ticks: [35, 30, 25, 20, 15, 10, 5], labels: [[30, "30"], [20, "20"], [10, "10"]], color: BLACK },
    { scale: d3.scaleLinear([22, 24.5], [1032.3, 1220.7]), from: 1032.3, to: 1220.7, ticks: [22, 22.5, 23, 23.5, 24, 24.5], labels: [[22, "22"], [23, "23"], [24, "24"]], color: GRAY_D },
    { scale: d3.scaleLinear([0, 0.06], [1260, 1448.3]), from: 1260, to: 1448.3, ticks: [0, 0.01, 0.02, 0.03, 0.04, 0.05, 0.06], labels: [[0, "0.00"], [0.02, "0.02"], [0.04, "0.04"], [0.06, "0.06"]], color: GRAY_D },
  ];
  dAxes[2].labels = [[dAxes[2].ticks[0], "0.3"], [dAxes[2].ticks[2], "0.6"], [dAxes[2].ticks[4], "0.9"]];
  const yd = (v: number) => ageD(v);
  const ageTicksD = d3.range(0, 36).map((i) => 3.5 + i * 0.1);

  return (
    <svg width={1565} height={1805} style={{ position: "absolute", left: 0, top: 0, background: "#fff" }} fontFamily={FONT}>
      <rect width={1565} height={1805} fill="#fff" />
      {/* ===== Panel a ===== */}
      <text x={176} y={31} fontSize={25} fill="#111" textAnchor="middle">a</text>
      <Spectrum xs={xA} ys={yA} spec={chiSpectrum} red={chiRedNoise} conf={chiConfidence} color={BROWN_A}
        yTicks={d3.range(0, 9).map((i) => i * 1500)} yMajorEvery={2} dash="4 4" clipId="clipA" />
      <text transform="translate(151,282) rotate(-90)" fontSize={23} fill={BROWN_A} textAnchor="middle">Power spectrum</text>
      <text x={467} y={526} fontSize={23} fill={BROWN_A} textAnchor="middle">Frequency</text>
      <Chi x={421} y={98} fs={21} color="#8d6a42" />
      <g fontSize={21} fill={BROWN_A} textAnchor="middle">
        <text x={352} y={288}>100 kyr</text>
        <text x={398} y={337}>71 kyr</text>
        <text x={477} y={406}>41 kyr</text>
        <text x={586} y={420}>27 kyr</text>
        <text x={703} y={434}>21 kyr</text>
      </g>

      {/* ===== Panel b ===== */}
      <text x={822} y={29} fontSize={25} fill="#111" textAnchor="middle">b</text>
      <Spectrum xs={xB} ys={yB} spec={carbSpectrum} red={carbRedNoise} conf={carbConfidence} color={NAVY}
        yTicks={d3.range(0, 11).map((i) => i * 1000)} yMajorEvery={2} dash="8 5" clipId="clipB" />
      <text transform="translate(812,265) rotate(-90)" fontSize={23} fill={NAVY} textAnchor="middle">Power spectrum</text>
      <text x={1147} y={526} fontSize={23} fill={NAVY} textAnchor="middle">Frequency</text>
      <text x={1059} y={93} fontSize={22} fill={NAVY} textAnchor="middle">Carbonate content</text>
      <g fontSize={21} fill={NAVY} textAnchor="middle">
        <text x={1080} y={359}>56 kyr</text>
        <text x={1144} y={420}>41 kyr</text>
        <text x={1229} y={361}>30 kyr</text>
        <text x={1377} y={440}>21 kyr</text>
      </g>

      {/* ===== Panel c ===== */}
      <text x={28} y={540} fontSize={25} fill="#111" textAnchor="middle">c</text>
      <rect x={88} y={ageC(3.919)} width={1531 - 88} height={ageC(4.724) - ageC(3.919)} fill="#fff200" />
      {cBlobs.map((b, i) => (
        <path key={"b" + i} d={b.d} fill={b.c} stroke="none" />
      ))}
      {cCurves.map((c, i) => (
        <path key={i} d={c.d} fill="none" stroke={c.c} strokeWidth={c.w} strokeLinejoin="round" />
      ))}
      <g stroke={GRAY_C} strokeWidth={1.5}>
        <line x1={88} x2={88} y1={ageC(3.5)} y2={1014} />
        {ageTicksC.map((v, i) => (
          <line key={i} x1={88} x2={88 + (i % 5 === 0 ? 8 : 5)} y1={ageC(v)} y2={ageC(v)} />
        ))}
      </g>
      <g fill={GRAY_C} fontSize={18} textAnchor="end">
        {ageTicksC.filter((_, i) => i % 5 === 0).map((v) => (
          <text key={v} x={68} y={ageC(v) + 6}>{String(+v.toFixed(1))}</text>
        ))}
      </g>
      <text transform="translate(25,771) rotate(-90)" fontSize={23} fill={GRAY_C} textAnchor="middle">Age(Ma)</text>
      {cAxes.map((a, i) => <BottomAxis key={i} a={a} y={1014} labelY={1050} fs={18} />)}
      <g fontSize={21} textAnchor="middle">
        {cTitles.map(([x, s, c], i) => <text key={i} x={x} y={1074} fill={c}>{s}</text>)}
      </g>
      <text x={260} y={1104} fontSize={23} fill={GRAY_C} textAnchor="middle">Earth Orbital parameters</text>
      <text x={630} y={1110} fontSize={23} fill={GREEN} textAnchor="middle">δ <tspan fontSize={14} dy={-9}>18</tspan><tspan dy={9}>O</tspan></text>
      <text x={984} y={1110} fontSize={22} fill={NAVY} textAnchor="middle">Carbonate content</text>
      <Chi x={1365} y={1108} fs={23} color={BROWN} />

      {/* ===== Panel d ===== */}
      <text x={28} y={1158} fontSize={25} fill="#111" textAnchor="middle">d</text>
      <rect x={107} y={ageD(3.897)} width={1456 - 107} height={ageD(4.835) - ageD(3.897)} fill="#c9cacc" />
      <path d={vpath(zig(3.52, 7.02, 0.041, 3.5, 0.1, obliquityEnv, 23.23), dAxes[4].scale, yd, d3.curveMonotoneY)} fill="none" stroke={GRAY_D} strokeWidth={2.4} />
      <path d={vpath(eccentricity, dAxes[5].scale, yd, d3.curveMonotoneY)} fill="none" stroke={GRAY_D} strokeWidth={2.4} />
      <g stroke={TEAL} strokeWidth={3.5}>
        {tealAges.map((a, i) => (
          <line key={i} x1={107} x2={a < 4.84 ? 1456 : 1452} y1={ageD(a)} y2={ageD(a)} />
        ))}
      </g>
      <g fill="none" stroke={BLACK} strokeWidth={1.8} strokeLinejoin="round">
        <path d={vpath(chiPedo, dAxes[0].scale, yd)} />
        <path d={vpath(k2oNa2o, dAxes[1].scale, yd)} />
        <path d={vpath(rbSr, dAxes[2].scale, yd)} />
        <path d={vpath(caco3, dAxes[3].scale, yd)} />
      </g>
      <g stroke={BLACK} strokeWidth={1.6}>
        <line x1={106.7} x2={106.7} y1={ageD(3.5)} y2={ageD(7)} />
        {ageTicksD.map((v, i) => (
          <line key={i} x1={106.7} x2={106.7 - (i % 5 === 0 ? 7 : 4)} y1={ageD(v)} y2={ageD(v)} />
        ))}
      </g>
      <g fill={BLACK} fontSize={18} textAnchor="end">
        {ageTicksD.filter((_, i) => i % 5 === 0).map((v) => (
          <text key={v} x={96} y={ageD(v) + 6}>{v.toFixed(1)}</text>
        ))}
      </g>
      <text transform="translate(50,1486) rotate(-90)" fontSize={23} fill={BLACK} textAnchor="middle">Age(Ma)</text>
      {dAxes.map((a, i) => <TopAxis key={i} a={a} y={1204} labelY={1192} fs={18} />)}
      <Chi x={184} y={1162} fs={23} color={BLACK} />
      <text x={428} y={1162} fontSize={23} fill={BLACK} textAnchor="middle">K<tspan fontSize={14} dy={5}>2</tspan><tspan dy={-5}>O/Na</tspan><tspan fontSize={14} dy={5}>2</tspan><tspan dy={-5}>O</tspan></text>
      <text x={660} y={1162} fontSize={23} fill={BLACK} textAnchor="middle">Rb/Sr</text>
      <text x={877} y={1162} fontSize={23} fill={BLACK} textAnchor="middle">CaCO<tspan fontSize={14} dy={5}>3</tspan></text>
      <text x={1134} y={1162} fontSize={24} fill={GRAY_D} textAnchor="middle">Obliquity</text>
      <text x={1361} y={1162} fontSize={24} fill={GRAY_D} textAnchor="middle">Eccentricity</text>
    </svg>
  );
}
